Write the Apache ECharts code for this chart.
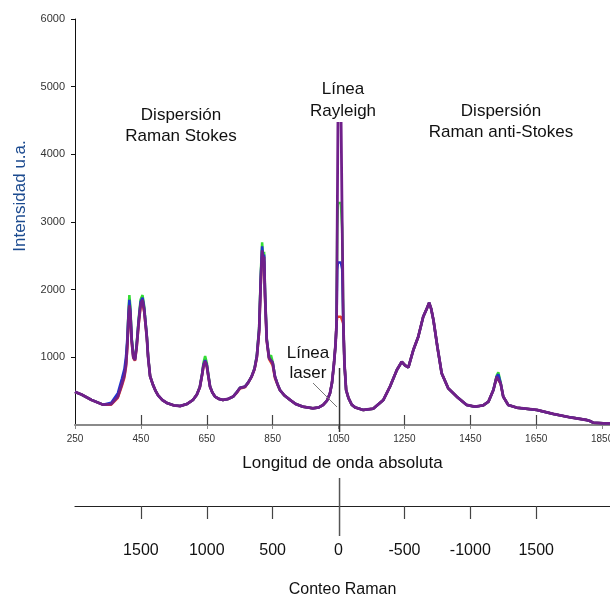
<!DOCTYPE html>
<html><head><meta charset="utf-8">
<script src="https://cdn.jsdelivr.net/npm/echarts@6/dist/echarts.min.js"></script>
<style>html,body{margin:0;padding:0;background:#fff}#c{width:610px;height:597px}</style>
</head><body><div id="c"></div>
<script>
// Longitud de onda absoluta (eje x)
const wavelength = [
 250,270,300,335,360,380,392,400,405,409,
 412,415,418,422,427,432,437,443,449,455,
 460,464,468,472,478,487,495,502,515,529,
 550,569,590,608,620,629,636,640,645,650,
 655,660,667,675,687,699,715,730,742,751,
 766,776,786,795,802,809,814,818,821,824,
 827,832,839,845,850,857,865,872,885,903,
 920,942,972,990,1003,1015,1024,1030,1036,1041,
 1044,1046,1048,1049,1057,1058,1061,1064.5,1068,1073,
 1080,1090,1100,1125,1155,1186,1206,1227,1242,1252,
 1262,1277,1292,1307,1318,1325,1331,1338,1350,1363,
 1383,1409,1439,1464,1489,1505,1520,1530,1535,1542,
 1550,1565,1591,1652,1702,1753,1803,1815,1823,1853,
 1874];
const intensidadMorado = [
 490,450,370,300,310,420,600,740,900,1200,
 1550,1770,1650,1250,1000,960,1150,1500,1780,1850,
 1700,1500,1300,1000,720,590,500,440,370,325,
 290,280,310,370,450,560,750,880,940,880,
 720,566,480,420,385,370,385,420,490,550,
 566,630,715,830,1010,1400,2140,2580,2420,2490,
 1900,1256,990,1010,920,715,600,517,440,370,
 310,270,246,260,296,360,468,620,900,1200,
 1500,2985,4360,4800,4800,4360,2985,1500,900,517,
 400,300,261,222,241,370,566,813,935,880,
 852,1108,1305,1600,1720,1807,1720,1552,1157,764,
 542,418,296,270,290,345,517,714,740,616,
 418,296,256,222,163,113,74,55,34,25,
 25];
const intensidadVerde = [
 490,450,370,300,310,420,610,760,930,1250,
 1650,1920,1750,1300,1020,980,1190,1560,1850,1920,
 1760,1540,1320,1010,725,590,500,440,370,325,
 290,280,310,370,450,565,770,920,1020,920,
 740,570,480,420,385,370,385,420,490,550,
 566,630,715,840,1030,1450,2250,2700,2500,2560,
 1950,1280,1000,1030,935,720,600,517,440,370,
 310,270,246,260,296,360,468,620,900,1200,
 1500,2900,3280,3280,3280,3280,2900,1500,900,517,
 400,300,261,222,241,370,566,813,935,880,
 852,1108,1305,1600,1720,1807,1720,1552,1157,764,
 542,418,296,270,290,345,517,730,780,630,
 418,296,256,222,163,113,74,55,34,25,
 25];
const intensidadAzul = [
 490,450,370,300,330,470,680,830,1020,1300,
 1620,1850,1700,1280,1010,970,1170,1530,1820,1880,
 1730,1520,1310,1005,720,590,500,440,370,325,
 290,280,310,370,450,560,755,890,960,890,
 720,566,480,420,385,370,385,420,490,550,
 566,630,715,830,1015,1420,2200,2640,2460,2520,
 1920,1265,995,1015,925,715,600,517,440,370,
 310,270,246,260,296,360,468,620,900,1200,
 1500,2300,2400,2400,2400,2400,2300,1500,900,517,
 400,300,261,222,241,370,566,813,935,880,
 852,1108,1305,1600,1720,1807,1720,1552,1157,764,
 542,418,296,270,290,345,517,714,750,620,
 418,296,256,222,163,113,74,55,34,25,
 25];
const intensidadRojo = [
 490,450,370,300,300,400,570,700,860,1150,
 1480,1700,1600,1220,990,950,1130,1470,1740,1790,
 1670,1480,1290,1000,720,590,500,440,370,325,
 290,280,310,370,450,555,740,860,910,860,
 710,560,480,420,385,370,385,420,480,540,
 556,625,710,820,990,1370,2080,2480,2360,2420,
 1860,1240,975,980,880,690,590,517,440,370,
 310,270,246,260,296,360,468,620,900,1200,
 1500,1600,1600,1600,1600,1600,1600,1500,900,517,
 400,300,261,222,241,370,566,813,935,880,
 852,1108,1305,1600,1720,1807,1720,1552,1157,764,
 542,418,296,270,290,345,517,705,720,610,
 418,296,256,222,163,113,74,55,34,25,
 25];
const xTickValues = [250,450,650,850,1050,1250,1450,1650,1850];
const ramanTickPos = [450,650,850,1250,1450,1650];
const ramanLabelPos = [450,650,850,1050,1250,1450,1650];
const ramanLabels = ["1500","1000","500","0","-500","-1000","1500"];
const laserPos = 1053;

const FONT = '"Liberation Sans", Arial, sans-serif';
const chart = echarts.init(document.getElementById('c'));
const pairs = ys => wavelength.map((x, i) => [x, ys[i]]);
const mk = (name, ys, color, w, z) => ({
  type: 'line', name, data: pairs(ys), symbol: 'none', z,
  lineStyle: { color, width: w }, itemStyle: { color }, animation: false
});

chart.setOption({
  backgroundColor: '#fff',
  animation: false,
  textStyle: { fontFamily: FONT },
  grid: { left: 75, top: 19, right: 0, height: 406, containLabel: false, outerBoundsMode: 'none' },
  xAxis: [
    { type: 'value', min: 250, max: 1874, position: 'bottom',
      axisLine: { show: true, onZero: false, lineStyle: { color: '#8a8a8a', width: 2 } },
      axisTick: { show: true, customValues: xTickValues, length: 4, lineStyle: { color: '#8a8a8a' } },
      axisLabel: { customValues: xTickValues, fontSize: 10, color: '#333', margin: 9, fontFamily: FONT,
        formatter: v => String(v) },
      splitLine: { show: false },
      name: 'Longitud de onda absoluta', nameLocation: 'middle', nameGap: 30,
      nameTextStyle: { fontSize: 17, color: '#111', fontFamily: FONT } },
    { type: 'value', min: 250, max: 1874, position: 'bottom', offset: 81,
      axisLine: { show: true, onZero: false, lineStyle: { color: '#222', width: 1.2 } },
      axisTick: { show: true, customValues: ramanTickPos, length: 13, lineStyle: { color: '#444', width: 1.2 } },
      axisLabel: { customValues: ramanLabelPos, fontSize: 16, color: '#111', margin: 37, fontFamily: FONT,
        formatter: v => ramanLabels[ramanLabelPos.indexOf(v)] },
      splitLine: { show: false },
      name: 'Conteo Raman', nameLocation: 'middle', nameGap: 76,
      nameTextStyle: { fontSize: 16, color: '#111', fontFamily: FONT } },
    { type: 'value', min: 250, max: 1874, position: 'bottom', offset: 81,
      axisLine: { show: false },
      axisTick: { show: true, inside: true, customValues: ramanTickPos, length: 10, lineStyle: { color: '#444', width: 1.2 } },
      axisLabel: { show: false }, splitLine: { show: false } }
  ],
  yAxis: {
    type: 'value', min: 0, max: 6000, interval: 1000,
    axisLine: { show: true, lineStyle: { color: '#111', width: 1 } },
    axisTick: { show: true, length: 4, lineStyle: { color: '#111' } },
    axisLabel: { fontSize: 11, color: '#333', margin: 10, showMinLabel: false, fontFamily: FONT,
      formatter: v => String(v) },
    splitLine: { show: false }
  },
  series: [
    mk('rojo', intensidadRojo, '#e8402a', 2.5, 2),
    mk('azul', intensidadAzul, '#2233cc', 2.5, 3),
    mk('verde', intensidadVerde, '#33dd33', 2.5, 1),
    mk('morado', intensidadMorado, '#70208a', 2.8, 4)
  ]
});

const lx = chart.convertToPixel({ xAxisIndex: 0 }, laserPos);
const txt = (x, y, text, lh, bg) => ({
  type: 'text', x, y, z: 100,
  style: { text, fontSize: 17, fontFamily: FONT, fill: '#111', align: 'center',
    verticalAlign: 'top', lineHeight: lh, backgroundColor: bg || 'transparent', padding: bg ? [0, 3] : 0 }
});
chart.setOption({
  graphic: [
    { type: 'text', x: 20, y: 196, rotation: Math.PI / 2, z: 100,
      style: { text: 'Intensidad u.a.', fontSize: 17, fontFamily: FONT, fill: '#1b4a8f',
        align: 'center', verticalAlign: 'middle' } },
    txt(181, 105, 'Dispersión\nRaman Stokes', 21),
    txt(501, 101, 'Dispersión\nRaman anti-Stokes', 21),
    txt(343, 78, 'Línea\nRayleigh', 22, '#fff'),
    txt(308, 343, 'Línea\nlaser', 20),
    { type: 'line', z: 100, shape: { x1: 313, y1: 383, x2: 337, y2: 407 }, style: { stroke: '#777', lineWidth: 1 } },
    { type: 'line', z: 100, shape: { x1: lx, y1: 368, x2: lx, y2: 432 }, style: { stroke: '#333', lineWidth: 1.5 } },
    { type: 'line', z: 100, shape: { x1: lx, y1: 478, x2: lx, y2: 536 }, style: { stroke: '#555', lineWidth: 1.5 } }
  ]
});
</script></body></html>
